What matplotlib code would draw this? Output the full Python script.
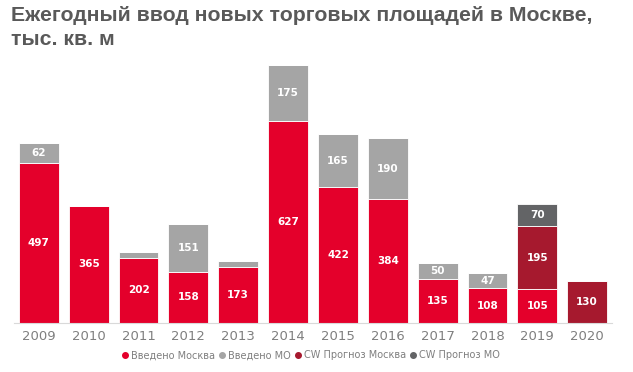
import matplotlib.pyplot as plt
from matplotlib import font_manager
import numpy as np

years = ["2009", "2010", "2011", "2012", "2013", "2014", "2015", "2016",
         "2017", "2018", "2019", "2020"]
moscow = [497, 365, 202, 158, 173, 627, 422, 384, 135, 108, 105, 0]
mo = [62, 0, 18, 151, 20, 175, 165, 190, 50, 47, 0, 0]
cw_moscow = [0, 0, 0, 0, 0, 0, 0, 0, 0, 0, 195, 130]
cw_mo = [0, 0, 0, 0, 0, 0, 0, 0, 0, 0, 70, 0]

series = [
    ("Введено Москва", moscow, "#e4002b"),
    ("Введено МО", mo, "#a5a5a5"),
    ("CW Прогноз Москва", cw_moscow, "#a6192e"),
    ("CW Прогноз МО", cw_mo, "#636466"),
]


def title_font(size):
    # pick the upright bold face directly, by file name
    for f in font_manager.findSystemFonts():
        if f.endswith("LiberationSans-Bold.ttf"):
            return font_manager.FontProperties(fname=f, size=size)
    return font_manager.FontProperties(family="Liberation Sans", weight="bold",
                                       style="normal", size=size)


def main():
    fig = plt.figure(figsize=(6.33, 3.72), dpi=100)
    ax = fig.add_axes([0.022, 0.132, 0.945, 0.72])
    x = np.arange(len(years))
    bottom = np.zeros(len(years))
    for label, vals, color in series:
        vals = np.array(vals, dtype=float)
        ax.bar(x, vals, 0.8, bottom=bottom, color=color, label=label,
               edgecolor="white", linewidth=0.6)
        for xi, v, b in zip(x, vals, bottom):
            if v >= 40:
                ax.text(xi, b + v / 2, str(int(v)), ha="center", va="center",
                        color="white", fontsize=7.5, fontweight="bold",
                        family="DejaVu Sans")
        bottom += vals

    ax.set_xlim(-0.5, len(years) - 0.5)
    ax.set_ylim(0, 833)
    ax.set_xticks(x)
    ax.set_xticklabels(years, color="#7f7f7f", fontsize=9.5)
    ax.tick_params(axis="x", length=0, pad=5)
    ax.set_yticks([])
    for s in ["top", "right", "left"]:
        ax.spines[s].set_visible(False)
    ax.spines["bottom"].set_color("#d9d9d9")

    fig.text(0.018, 0.985, "Ежегодный ввод новых торговых площадей в Москве,\nтыс. кв. м",
             ha="left", va="top", fontproperties=title_font(15.3),
             color="#595959", linespacing=1.35)

    labels = [s[0] for s in series]
    markers = [plt.Line2D([], [], marker="o", linestyle="", color=c, markersize=4)
               for _, _, c in series]
    fig.legend(markers, labels, loc="center", bbox_to_anchor=(0.49, 0.045),
               ncol=4, frameon=False, fontsize=7, handletextpad=0.15,
               columnspacing=0.3, labelcolor="#7f7f7f", handlelength=0.9)

    fig.savefig("out.png", dpi=100)


if __name__ == "__main__":
    main()
